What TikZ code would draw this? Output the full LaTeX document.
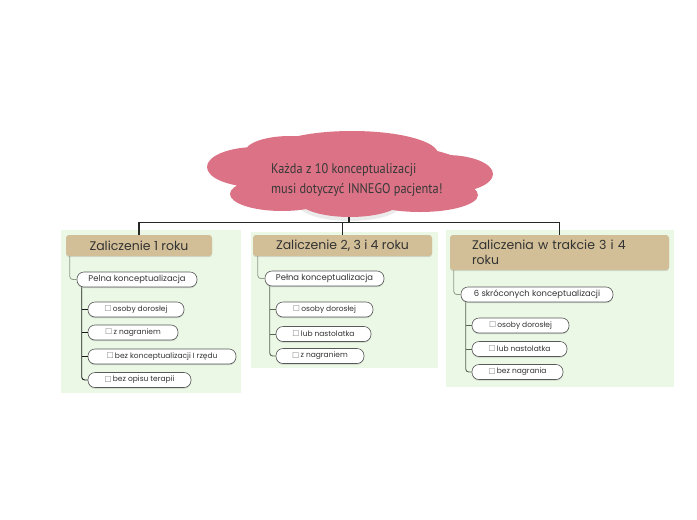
\documentclass[tikz,border=0pt]{standalone}
\usepackage{fontspec}
\setmainfont{Poppins}
\newfontfamily\cloudfont[FakeStretch=0.88]{PT Sans}
\newfontfamily\symfont{DejaVu Sans}
\usetikzlibrary{shadows}
\definecolor{cloudpink}{HTML}{DB7285}
\definecolor{tan}{HTML}{D2BF97}
\definecolor{panelgreen}{HTML}{EAF8E5}
\definecolor{hconn}{HTML}{8F9C87}
\definecolor{olive}{HTML}{56654E}
\newcommand{\cbox}{{\symfont\color{gray}\fontsize{8}{8}\selectfont\raisebox{-0.4pt}{☐}}\,}
\tikzset{
  hdr/.style={fill=tan, rounded corners=3pt, inner sep=0pt, text=black!80,
     font=\fontsize{12.5}{15}\selectfont,
     drop shadow={opacity=0.25, shadow xshift=0pt, shadow yshift=-1.2pt}},
  pill/.style={draw=black!65, line width=0.6pt, fill=white, rounded corners=7pt,
     minimum height=15pt, inner sep=0pt, text=black!80,
     drop shadow={opacity=0.3, shadow xshift=0pt, shadow yshift=-1.2pt}},
  ptext/.style={font=\fontsize{8.4}{10}\selectfont},
  itext/.style={font=\fontsize{7.5}{9}\selectfont},
  topline/.style={draw=black!85, line width=1.6pt},
  hline/.style={draw=hconn, line width=0.8pt, rounded corners=3pt},
  iline/.style={line width=0.9pt, rounded corners=3pt},
}
\begin{document}
\begin{tikzpicture}[x=1pt,y=-1pt]
\useasboundingbox (0,0) rectangle (697,520);
\fill[white] (0,0) rectangle (697,520);
% panels
\fill[panelgreen] (61,230) rectangle (241,393);
\fill[panelgreen] (251,232) rectangle (438,368);
\fill[panelgreen] (446,230) rectangle (674,387);
% cloud
\fill[black, opacity=0.08] (350,204) ellipse (52 and 17);
\fill[cloudpink]
  (350,172) ellipse (122 and 30)
  (352,154) ellipse (86 and 23)
  (290,152) ellipse (45 and 16)
  (256,167) ellipse (49 and 20)
  (446,174) ellipse (47 and 19)
  (282,194) ellipse (52 and 17)
  (420,195) ellipse (58 and 17)
  (350,200) ellipse (52 and 17);
\node[anchor=west, align=left, inner sep=0pt, text=black!78,
      font=\cloudfont\fontsize{14}{19.5}\selectfont] (ctext) at (271,180)
  {Każda z 10 konceptualizacji\\musi dotyczyć INNEGO pacjenta!};
\coordinate (cl) at (349,217);
\coordinate (bus) at (349,222.5);
% headers
\node[hdr, minimum width=146pt, minimum height=21pt] (h1) at (139,245.5) {Zaliczenie 1 roku};
\node[hdr, minimum width=179pt, minimum height=21pt] (h2) at (342.5,245.5) {Zaliczenie 2, 3 i 4 roku};
\node[hdr, minimum height=35pt, text width=175pt, inner xsep=22pt, align=left,
      font=\fontsize{12.5}{15}\selectfont] (h3) at (559.5,252.5) {Zaliczenia w trakcie 3 i 4\\roku};
% top connectors
\draw[topline] (cl) -- (bus);
\draw[topline] (h1.north) |- (bus) -| (h3.north);
\draw[topline] (h2.north) -- (h2.north |- bus);
% pills
\node[pill, ptext, minimum width=120pt] (p1) at (137,279.5) {Pelna konceptualizacja};
\node[pill, ptext, minimum width=119pt] (p2) at (324.5,278.5) {Pełna konceptualizacja};
\node[pill, ptext, minimum width=152pt] (p3) at (537,294.5) {6 skróconych konceptualizacji};
% items panel 1
\node[pill, itext, minimum width=96pt] (i11) at (136,309.5) {\cbox osoby dorosłej};
\node[pill, itext, minimum width=90pt] (i12) at (133,332.5) {\cbox z nagraniem};
\node[pill, itext, minimum width=148pt] (i13) at (162,356.5) {\cbox bez konceptualizacji I rzędu};
\node[pill, itext, minimum width=103pt] (i14) at (139.5,380) {\cbox bez opisu terapii};
% items panel 2
\node[pill, itext, minimum width=97pt] (i21) at (324.5,309.5) {\cbox osoby dorosłej};
\node[pill, itext, minimum width=95pt] (i22) at (323.5,334) {\cbox lub nastolatka};
\node[pill, itext, minimum width=88pt] (i23) at (320,356) {\cbox z nagraniem};
% items panel 3
\node[pill, itext, minimum width=97pt] (i31) at (520.5,325.5) {\cbox osoby dorosłej};
\node[pill, itext, minimum width=95pt] (i32) at (519.5,349) {\cbox lub nastolatka};
\node[pill, itext, minimum width=91pt] (i33) at (517.5,372) {\cbox bez nagrania};
% header to pill
\draw[hline] ([xshift=4pt]h1.south west) |- (p1.west);
\draw[hline] ([xshift=5pt]h2.south west) |- (p2.west);
\draw[hline] ([xshift=4pt]h3.south west) |- (p3.west);
% pill to items
\draw[iline, draw=black!90] ([xshift=5pt]p1.south west) |- (i14.west);
\draw[iline, draw=black!90] ([xshift=5pt]p1.south west |- i11.west) -- (i11.west);
\draw[iline, draw=black!90] ([xshift=5pt]p1.south west |- i12.west) -- (i12.west);
\draw[iline, draw=black!90] ([xshift=5pt]p1.south west |- i13.west) -- (i13.west);
\draw[iline, draw=olive] ([xshift=5pt]p2.south west) |- (i23.west);
\draw[iline, draw=olive] ([xshift=5pt]p2.south west |- i21.west) -- (i21.west);
\draw[iline, draw=olive] ([xshift=5pt]p2.south west |- i22.west) -- (i22.west);
\draw[iline, draw=olive] ([xshift=5pt]p3.south west) |- (i33.west);
\draw[iline, draw=olive] ([xshift=5pt]p3.south west |- i31.west) -- (i31.west);
\draw[iline, draw=olive] ([xshift=5pt]p3.south west |- i32.west) -- (i32.west);
\end{tikzpicture}
\end{document}
